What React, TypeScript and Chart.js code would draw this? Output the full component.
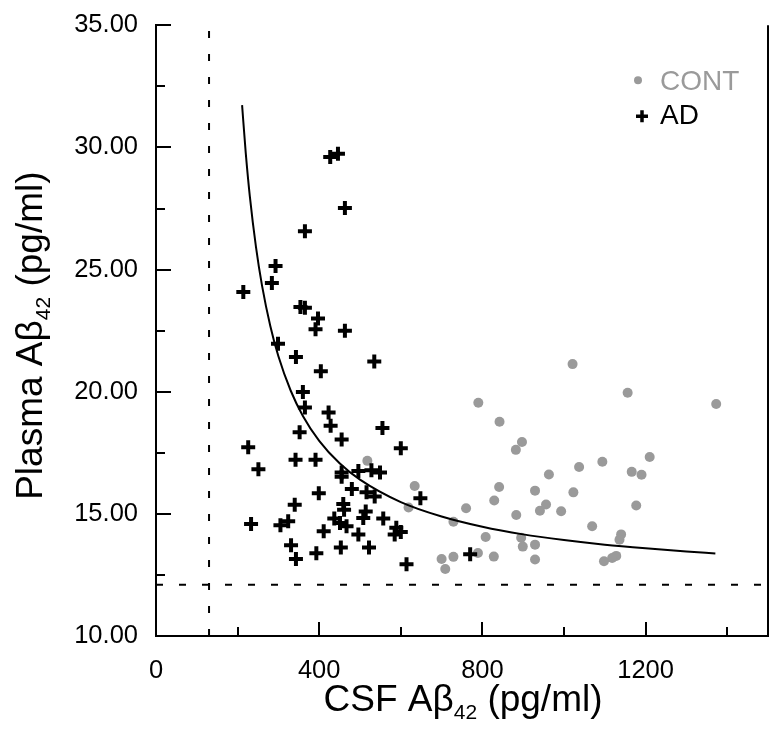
import React, { useEffect, useRef } from "react";
import { Chart, registerables } from "chart.js";

Chart.register(...registerables);

// ---- Data ----
const adCsf = [
  427, 446, 463, 365, 293, 284, 214, 354, 365, 397, 391, 463, 299, 343, 535, 404,
  360, 365, 423, 428, 555, 352, 455, 226, 600, 342, 391, 251, 455, 496, 528, 549,
  455, 480, 516, 536, 399, 648, 340, 459, 461, 514, 508, 557, 437, 233, 305, 324,
  451, 467, 411, 496, 589, 600, 585, 331, 522, 453, 393, 343, 614, 770,
];
const adPlasma = [
  29.61, 29.74, 27.52, 26.57, 25.15, 24.45, 24.08, 23.47, 23.44, 23.0, 22.56, 22.5, 21.96, 21.42, 21.24, 20.84,
  19.99, 19.35, 19.15, 18.61, 18.51, 18.34, 18.04, 17.73, 17.69, 17.22, 17.22, 16.83, 16.69, 16.75, 16.79, 16.69,
  16.52, 16.02, 15.88, 15.71, 15.84, 15.64, 15.37, 15.4, 15.17, 15.1, 14.83, 14.81, 14.81, 14.59, 14.53, 14.7,
  14.63, 14.49, 14.29, 14.16, 14.43, 14.26, 14.16, 13.71, 13.62, 13.62, 13.39, 13.15, 12.94, 13.35,
];
const contCsf = [
  790, 842, 518, 634, 841, 829, 619, 760, 729, 808, 789, 828, 729, 700, 709,
  1021, 1156, 1373, 897, 882, 1210, 1094, 1037, 1166, 1190, 963, 929, 1023, 956, 941,
  993, 1177, 883, 1069, 895, 899, 929, 929, 1140, 1136, 1128, 1118, 1098,
];
const contPlasma = [
  19.55, 18.77, 17.17, 16.14, 16.1, 15.55, 15.26, 15.23, 14.68, 14.05, 13.4, 13.25, 13.24, 13.15, 12.74,
  21.13, 19.96, 19.5, 17.94, 17.62, 17.33, 17.13, 16.92, 16.72, 16.6, 16.61, 15.95, 15.88, 15.38, 15.13,
  15.11, 15.34, 14.95, 14.49, 14.02, 13.66, 13.74, 13.13, 14.16, 13.94, 13.28, 13.19, 13.06,
];
// fitted curve, points
const fitCsf = [211, 220, 230, 245, 260, 280, 300, 330, 360, 400, 450, 500, 600, 700, 800, 900, 1000, 1100, 1200, 1300, 1371];
const fitPlasma = [31.73, 29.77, 28.0, 25.93, 24.33, 22.7, 21.45, 20.05, 19.01, 17.99, 17.07, 16.4, 15.48, 14.89, 14.47, 14.16, 13.93, 13.74, 13.59, 13.46, 13.38];

const csfCutoff = 130;
const plasmaCutoff = 12.1;

const xMajorTicks = [0, 400, 800, 1200];
const xMinorTicks = [200, 600, 1000, 1400];
const yMajorTicks = [10, 15, 20, 25, 30, 35];
const yMinorTicks = [12.5, 17.5, 22.5, 27.5, 32.5];
const X_MIN = 0;
const X_MAX = 1500;
const Y_MIN = 10;
const Y_MAX = 35;

const CONT_LABEL = "CONT";
const AD_LABEL = "AD";
const CONT_COLOR = "#9a9a9a";
const AD_COLOR = "#000000";

const FONT = '"Liberation Sans", Arial, Helvetica, sans-serif';

function drawSubText(
  ctx: CanvasRenderingContext2D,
  pre: string,
  sub: string,
  post: string,
  cx: number,
  cy: number,
  rotate: boolean
) {
  const mainFont = `37px ${FONT}`;
  const subFont = `21px ${FONT}`;
  ctx.save();
  ctx.translate(cx, cy);
  if (rotate) ctx.rotate(-Math.PI / 2);
  ctx.textAlign = "left";
  ctx.textBaseline = "alphabetic";
  ctx.fillStyle = "#000";
  ctx.font = mainFont;
  const w1 = ctx.measureText(pre).width;
  const w3 = ctx.measureText(post).width;
  ctx.font = subFont;
  const w2 = ctx.measureText(sub).width;
  let x0 = -(w1 + w2 + w3) / 2;
  ctx.font = mainFont;
  ctx.fillText(pre, x0, 0);
  x0 += w1;
  ctx.font = subFont;
  ctx.fillText(sub, x0, 8);
  x0 += w2;
  ctx.font = mainFont;
  ctx.fillText(post, x0, 0);
  ctx.restore();
}

const decorPlugin = {
  id: "decor",
  afterDatasetsDraw(chart: any) {
    const { ctx, chartArea: ca, scales } = chart;
    const x = scales.x;
    const y = scales.y;
    ctx.save();
    ctx.strokeStyle = "#000";
    ctx.lineWidth = 2;
    ctx.lineCap = "butt";
    ctx.beginPath();
    // right border
    ctx.moveTo(Math.round(ca.right), ca.top);
    ctx.lineTo(Math.round(ca.right), ca.bottom + 1);
    // inward ticks on x
    const tx = (v: number, len: number) => {
      const px = Math.round(x.getPixelForValue(v));
      ctx.moveTo(px, ca.bottom);
      ctx.lineTo(px, ca.bottom - len);
    };
    xMajorTicks.forEach((v) => tx(v, 14));
    xMinorTicks.forEach((v) => tx(v, 9));
    const ty = (v: number, len: number) => {
      const py = Math.round(y.getPixelForValue(v));
      ctx.moveTo(ca.left, py);
      ctx.lineTo(ca.left + len, py);
    };
    yMajorTicks.forEach((v) => ty(v, 15));
    yMinorTicks.forEach((v) => ty(v, 9));
    ctx.stroke();
    ctx.restore();
  },
  afterDraw(chart: any) {
    const { ctx, chartArea: ca } = chart;
    // axis titles
    drawSubText(ctx, "CSF A\u03b2", "42", " (pg/ml)", (ca.left + ca.right) / 2 + 1, ca.bottom + 75, false);
    drawSubText(ctx, "Plasma A\u03b2", "42", " (pg/ml)", 42, (ca.top + ca.bottom) / 2 + 5, true);

    // legend
    ctx.save();
    ctx.font = `28px ${FONT}`;
    ctx.textAlign = "left";
    ctx.textBaseline = "alphabetic";
    const lx = ca.right - 130;
    const tx = ca.right - 108;
    const row1 = ca.top + 65;
    const row2 = ca.top + 99;
    ctx.fillStyle = CONT_COLOR;
    ctx.beginPath();
    ctx.arc(lx, row1 - 10, 4, 0, Math.PI * 2);
    ctx.fill();
    ctx.fillText(CONT_LABEL, tx, row1);
    ctx.strokeStyle = AD_COLOR;
    ctx.lineWidth = 3.5;
    ctx.beginPath();
    ctx.moveTo(lx + 4 - 6, row2 - 8);
    ctx.lineTo(lx + 4 + 6, row2 - 8);
    ctx.moveTo(lx + 4, row2 - 14);
    ctx.lineTo(lx + 4, row2 - 2);
    ctx.stroke();
    ctx.fillStyle = AD_COLOR;
    ctx.fillText(AD_LABEL, tx, row2);
    ctx.restore();
  },
};

export default function App() {
  const ref = useRef<HTMLCanvasElement | null>(null);

  useEffect(() => {
    document.body.style.margin = "0";
    const canvas = ref.current;
    if (!canvas) return;
    Chart.defaults.font.family = FONT;

    const chart = new Chart(canvas, {
      type: "scatter",
      data: {
        datasets: [
          {
            label: AD_LABEL,
            data: adCsf.map((v, i) => ({ x: v, y: adPlasma[i] })),
            pointStyle: "cross",
            pointRadius: 7,
            pointBorderWidth: 4,
            borderColor: AD_COLOR,
            backgroundColor: AD_COLOR,
            order: 0,
          },
          {
            label: "fit",
            data: fitCsf.map((v, i) => ({ x: v, y: fitPlasma[i] })),
            showLine: true,
            borderColor: "#000",
            borderWidth: 2,
            pointRadius: 0,
            cubicInterpolationMode: "monotone",
            order: 1,
          } as any,
          {
            label: CONT_LABEL,
            data: contCsf.map((v, i) => ({ x: v, y: contPlasma[i] })),
            pointStyle: "circle",
            pointRadius: 5,
            pointBorderWidth: 0,
            borderColor: CONT_COLOR,
            backgroundColor: CONT_COLOR,
            order: 2,
          },
          {
            label: "csf cutoff",
            data: [
              { x: csfCutoff, y: Y_MIN },
              { x: csfCutoff, y: Y_MAX },
            ],
            showLine: true,
            borderColor: "#000",
            borderWidth: 2,
            borderDash: [7, 16],
            pointRadius: 0,
            order: 3,
          } as any,
          {
            label: "plasma cutoff",
            data: [
              { x: X_MIN, y: plasmaCutoff },
              { x: X_MAX, y: plasmaCutoff },
            ],
            showLine: true,
            borderColor: "#000",
            borderWidth: 2,
            borderDash: [7, 16],
            pointRadius: 0,
            order: 3,
          } as any,
        ],
      },
      options: {
        responsive: false,
        animation: false,
        devicePixelRatio: 1,
        events: [],
        layout: { padding: { top: 18, right: 7, left: 0, bottom: 0 } },
        plugins: {
          legend: { display: false },
          tooltip: { enabled: false },
          title: { display: false },
        },
        scales: {
          x: {
            type: "linear",
            min: X_MIN,
            max: X_MAX,
            grid: { display: false },
            border: { display: true, color: "#000", width: 2 },
            ticks: {
              color: "#000",
              font: { size: 25.5, family: FONT },
              padding: 12,
              maxRotation: 0,
              autoSkip: false,
              callback: (v: any) => String(v),
            },
            afterBuildTicks: (s: any) => {
              s.ticks = xMajorTicks.map((v) => ({ value: v }));
            },
            afterFit: (s: any) => {
              s.height = 97;
            },
          },
          y: {
            type: "linear",
            min: Y_MIN,
            max: Y_MAX,
            grid: { display: false },
            border: { display: true, color: "#000", width: 2 },
            ticks: {
              color: "#000",
              font: { size: 25.5, family: FONT },
              padding: 10,
              autoSkip: false,
              callback: (v: any) => Number(v).toFixed(2),
            },
            afterBuildTicks: (s: any) => {
              s.ticks = yMajorTicks.map((v) => ({ value: v }));
            },
            afterFit: (s: any) => {
              s.width = 156;
            },
          },
        },
      } as any,
      plugins: [decorPlugin],
    });

    return () => chart.destroy();
  }, []);

  return (
    <div style={{ width: 779, height: 733 }}>
      <canvas ref={ref} width={779} height={733} style={{ display: "block" }} />
    </div>
  );
}
